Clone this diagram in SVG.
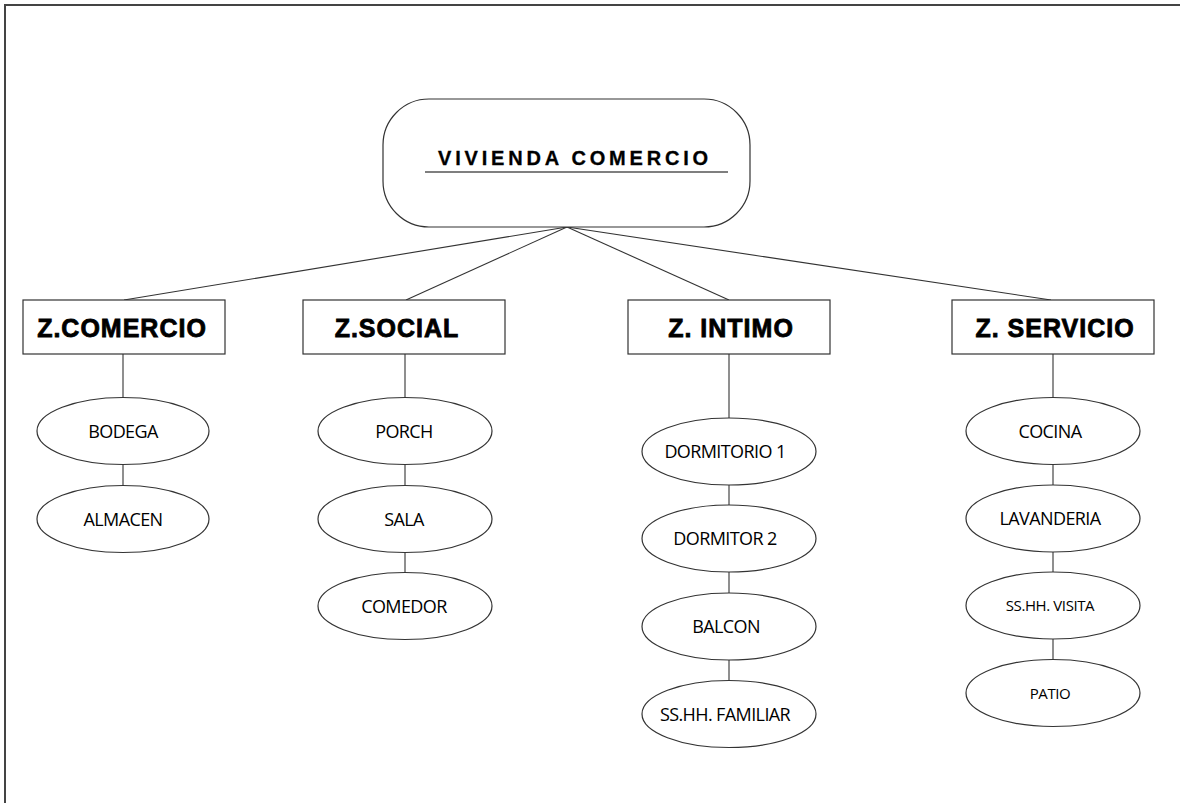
<svg xmlns="http://www.w3.org/2000/svg" width="1180" height="803" viewBox="0 0 1180 803">
<style>
.frame{fill:none;stroke:#444;stroke-width:2}
.root{fill:#fff;stroke:#333;stroke-width:1.2}
.zone{fill:#fff;stroke:#333;stroke-width:1.2}
.room{fill:#fff;stroke:#333;stroke-width:1.2}
.conn line{stroke:#333;stroke-width:1.1}
.tz{font-family:"Liberation Sans",Arial,sans-serif;font-weight:bold;font-size:25px;fill:#000;stroke:#000;stroke-width:0.8;letter-spacing:1px;text-anchor:middle}
.tr{font-family:"Open Sans","Noto Sans",sans-serif;font-size:18px;fill:#000;text-anchor:middle;letter-spacing:-0.6px}
.ts{font-family:"Open Sans","Noto Sans",sans-serif;font-size:15px;fill:#000;text-anchor:middle;letter-spacing:-0.4px}
</style>
<rect x="0" y="0" width="1180" height="803" fill="#fff"/>
<path class="frame" d="M5,803 V5 H1180"/>
<g id="connectors" class="conn">
<line x1="567" y1="227" x2="124" y2="300"/>
<line x1="567" y1="227" x2="406" y2="300"/>
<line x1="567" y1="227" x2="729" y2="300"/>
<line x1="567" y1="227" x2="1051" y2="300"/>
<line x1="123" y1="354" x2="123" y2="398"/>
<line x1="123" y1="465" x2="123" y2="486"/>
<line x1="405" y1="354" x2="405" y2="398"/>
<line x1="405" y1="465" x2="405" y2="486"/>
<line x1="405" y1="552" x2="405" y2="573"/>
<line x1="729" y1="354" x2="729" y2="418"/>
<line x1="729" y1="485" x2="729" y2="505"/>
<line x1="729" y1="572" x2="729" y2="593"/>
<line x1="729" y1="660" x2="729" y2="680"/>
<line x1="1053" y1="354" x2="1053" y2="398"/>
<line x1="1053" y1="465" x2="1053" y2="486"/>
<line x1="1053" y1="552" x2="1053" y2="572"/>
<line x1="1053" y1="639" x2="1053" y2="660"/>
</g>
<g id="root">
<rect class="root" x="383" y="99" width="367" height="128" rx="46"/>
<text x="575" y="165" font-family="'Liberation Sans',Arial,sans-serif" font-weight="bold" font-size="20" letter-spacing="3.8" stroke="#000" stroke-width="0.3" text-anchor="middle">VIVIENDA COMERCIO</text>
<line x1="425" y1="172" x2="728" y2="172" stroke="#000" stroke-width="1.2"/>
</g>
<g id="z-comercio"><rect class="zone" x="23" y="300" width="202" height="54"/><text class="tz" x="122" y="337">Z.COMERCIO</text></g>
<g id="z-social"><rect class="zone" x="303" y="300" width="202" height="54"/><text class="tz" x="397" y="337">Z.SOCIAL</text></g>
<g id="z-intimo"><rect class="zone" x="628" y="300" width="202" height="54"/><text class="tz" x="731" y="337">Z. INTIMO</text></g>
<g id="z-servicio"><rect class="zone" x="952" y="300" width="202" height="54"/><text class="tz" x="1055" y="337">Z. SERVICIO</text></g>
<g id="bodega"><ellipse class="room" cx="123" cy="431" rx="86" ry="33.5"/><text class="tr" x="123" y="438">BODEGA</text></g>
<g id="almacen"><ellipse class="room" cx="123" cy="519" rx="86" ry="33.5"/><text class="tr" x="123" y="526">ALMACEN</text></g>
<g id="porch"><ellipse class="room" cx="405" cy="431" rx="87" ry="33.5"/><text class="tr" x="404" y="438">PORCH</text></g>
<g id="sala"><ellipse class="room" cx="405" cy="519" rx="87" ry="33.5"/><text class="tr" x="404" y="526">SALA</text></g>
<g id="comedor"><ellipse class="room" cx="405" cy="606" rx="87" ry="33.5"/><text class="tr" x="404" y="613">COMEDOR</text></g>
<g id="dormitorio1"><ellipse class="room" cx="729" cy="451.5" rx="87" ry="33.5"/><text class="tr" x="725" y="458">DORMITORIO 1</text></g>
<g id="dormitor2"><ellipse class="room" cx="729" cy="538.5" rx="87" ry="33.5"/><text class="tr" x="725" y="545">DORMITOR 2</text></g>
<g id="balcon"><ellipse class="room" cx="729" cy="626.5" rx="87" ry="33.5"/><text class="tr" x="726" y="633">BALCON</text></g>
<g id="sshh-familiar"><ellipse class="room" cx="729" cy="714" rx="87" ry="33.5"/><text class="tr" x="725" y="721">SS.HH. FAMILIAR</text></g>
<g id="cocina"><ellipse class="room" cx="1053" cy="431" rx="87" ry="33.5"/><text class="tr" x="1050" y="438">COCINA</text></g>
<g id="lavanderia"><ellipse class="room" cx="1053" cy="518.5" rx="87" ry="33.5"/><text class="tr" x="1050" y="525">LAVANDERIA</text></g>
<g id="sshh-visita"><ellipse class="room" cx="1053" cy="605.5" rx="87" ry="33.5"/><text class="ts" x="1050" y="611">SS.HH. VISITA</text></g>
<g id="patio"><ellipse class="room" cx="1053" cy="693" rx="87" ry="33.5"/><text class="ts" x="1050" y="699">PATIO</text></g>
</svg>
